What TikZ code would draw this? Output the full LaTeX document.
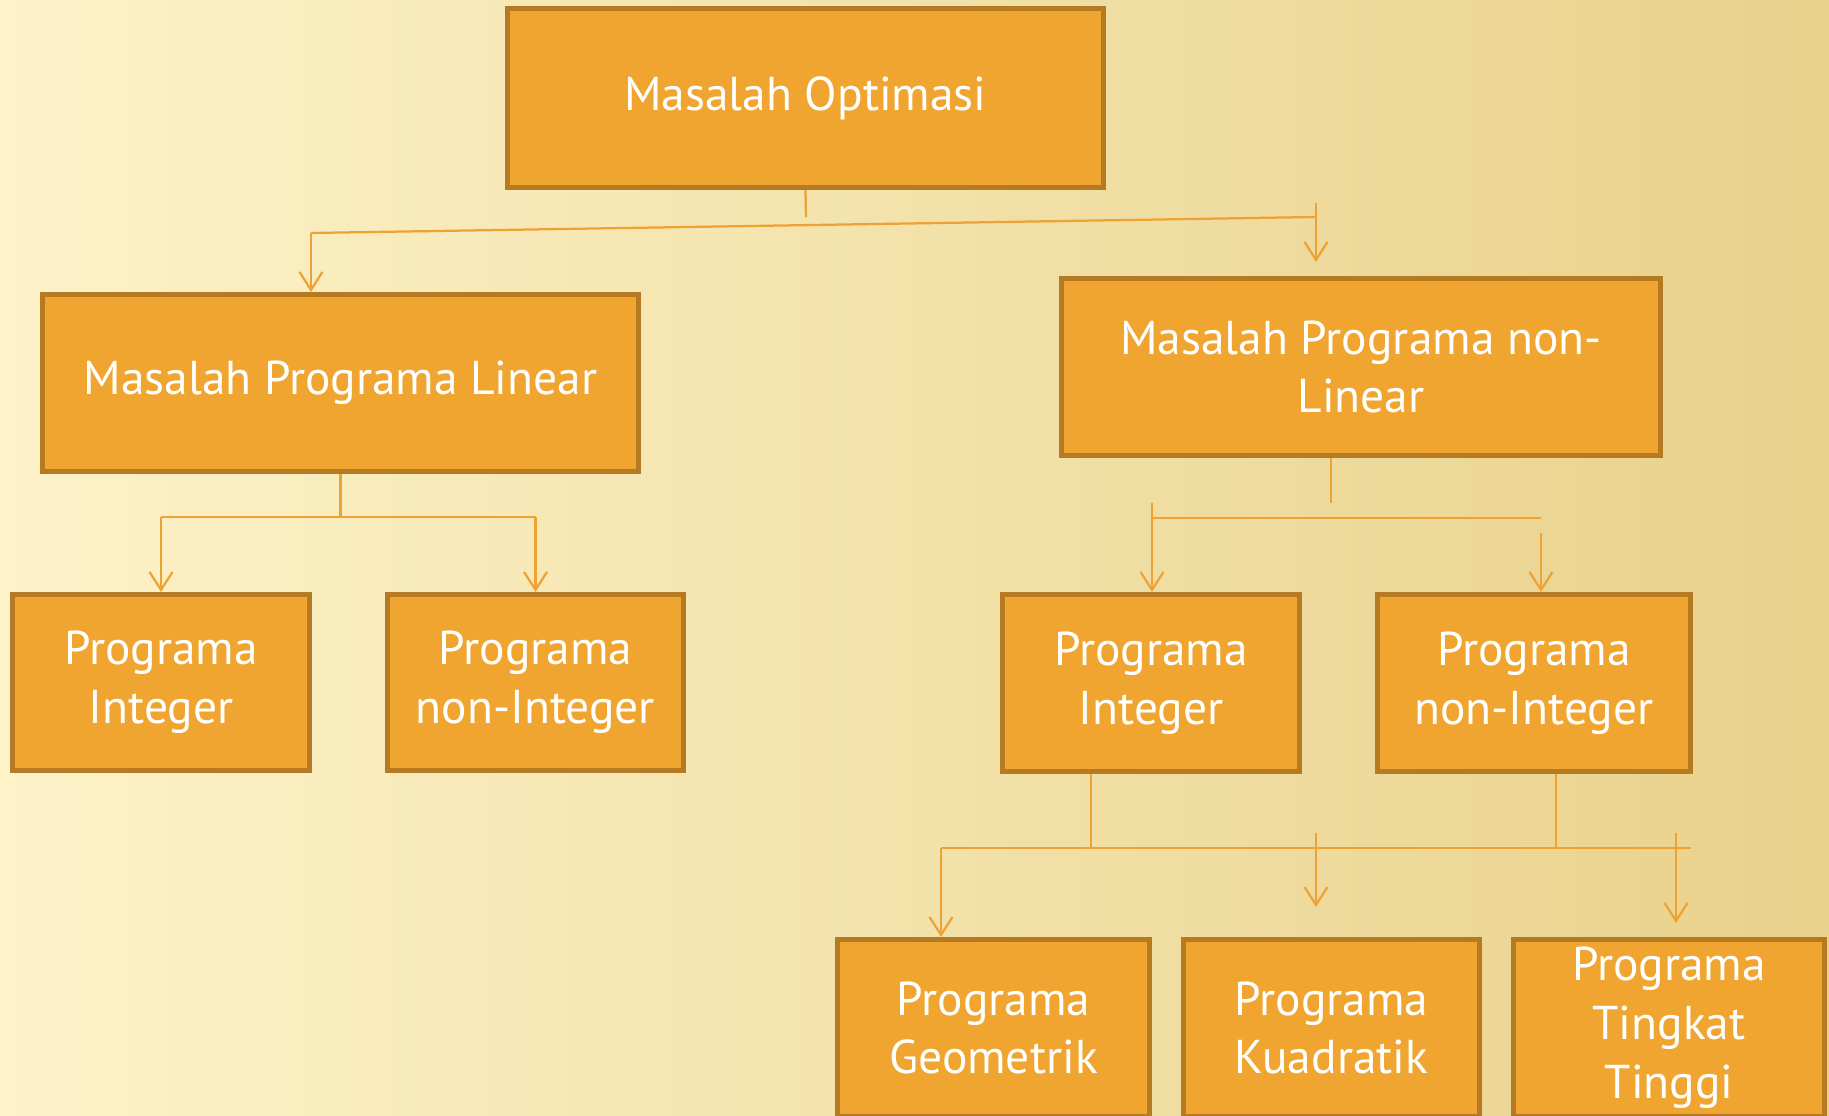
\documentclass[tikz,border=0pt]{standalone}
\usepackage{fontspec}
\setmainfont{PT Sans}
\usepackage{xcolor}
\usepackage{tikz}
\usetikzlibrary{arrows.meta}
\definecolor{OptFill}{HTML}{EFA52F}
\definecolor{OptLine}{HTML}{B57A22}
\definecolor{OptLink}{HTML}{EFA234}
\definecolor{OptBgLeft}{HTML}{FDF2C8}
\definecolor{OptBgMid}{HTML}{F9E9B6}
\definecolor{OptBgRight}{HTML}{E8D18B}
\tikzset{
  optbox/.style={draw=OptLine,fill=OptFill,line width=0.1cm,text=white,align=center,inner sep=0pt,font=\fontsize{27}{33.5}\selectfont},
  optlink/.style={OptLink,line width=0.045cm},
  optarrow/.style={optlink,-{Straight Barb[length=0.36cm,width=0.46cm]}}
}

\begin{document}
\begin{tikzpicture}[x=1cm,y=1cm]
\path[use as bounding box] (0,0) rectangle (36.58,22.30);
\clip (0,0) rectangle (36.58,22.30);
\shade[left color=OptBgLeft,middle color=OptBgMid,right color=OptBgRight] (0,0) rectangle (36.58,22.30);
% boxes
\node[optbox,minimum width=11.92cm,minimum height=3.58cm] (optim) at (16.11,20.34) {Masalah Optimasi};
\node[optbox,minimum width=11.92cm,minimum height=3.54cm] (linear) at (6.81,14.64) {Masalah Programa Linear};
\node[optbox,minimum width=11.98cm,minimum height=3.54cm] (nonlinear) at (27.22,14.96) {Masalah Programa non-\\Linear};
\node[optbox,minimum width=5.94cm,minimum height=3.52cm] (linint) at (3.22,8.65) {Programa\\Integer};
\node[optbox,minimum width=5.92cm,minimum height=3.52cm] (linnonint) at (10.71,8.65) {Programa\\non-Integer};
\node[optbox,minimum width=5.94cm,minimum height=3.54cm] (nlint) at (23.02,8.64) {Programa\\Integer};
\node[optbox,minimum width=6.26cm,minimum height=3.54cm] (nlnonint) at (30.68,8.64) {Programa\\non-Integer};
\node[optbox,minimum width=6.24cm,minimum height=3.54cm] (geom) at (19.87,1.74) {Programa\\Geometrik};
\node[optbox,minimum width=5.92cm,minimum height=3.54cm] (kuad) at (26.63,1.74) {Programa\\Kuadratik};
\node[optbox,minimum width=6.22cm,minimum height=3.54cm] (tingkat) at (33.38,1.74) {Programa\\Tingkat\\Tinggi};
% level 1
\coordinate (optstem) at (16.12,17.96);
\coordinate (optsplitL) at (6.22,17.64);
\coordinate (optsplitR) at (26.32,17.96);
\coordinate (optdropR) at (26.32,18.24);
\coordinate (optdropRtip) at (26.32,17.06);
\draw[optlink] (optim.south) -- (optstem);
\draw[optlink] (optsplitL) -- (optsplitR);
\draw[optarrow] (optsplitL) -- (optsplitL |- linear.north);
\draw[optarrow] (optdropR) -- (optdropRtip);
% level 2, linear
\coordinate (linbar) at (6.82,11.96);
\draw[optlink] (linear.south) -- (linear.south |- linbar);
\draw[optlink] (linint.north |- linbar) -- (linnonint.north |- linbar);
\draw[optarrow] (linint.north |- linbar) -- (linint.north);
\draw[optarrow] (linnonint.north |- linbar) -- (linnonint.north);
% level 2, non-linear
\coordinate (nlstem) at (26.62,12.24);
\coordinate (nlbarL) at (23.04,11.94);
\coordinate (nlbarR) at (30.82,11.94);
\coordinate (nlarrL) at (23.04,12.24);
\coordinate (nlarrR) at (30.82,11.64);
\draw[optlink] (nlstem |- nonlinear.south) -- (nlstem);
\draw[optlink] (nlbarL) -- (nlbarR);
\draw[optarrow] (nlarrL) -- (nlarrL |- nlint.north);
\draw[optarrow] (nlarrR) -- (nlarrR |- nlnonint.north);
% level 3
\coordinate (lowbarL) at (18.82,5.34);
\coordinate (lowbarR) at (33.82,5.34);
\coordinate (lowstemL) at (21.82,5.34);
\coordinate (lowstemR) at (31.12,5.34);
\coordinate (kuadtop) at (26.32,5.64);
\coordinate (kuadtip) at (26.32,4.16);
\coordinate (tingtop) at (33.52,5.64);
\coordinate (tingtip) at (33.52,3.84);
\draw[optlink] (lowstemL |- nlint.south) -- (lowstemL);
\draw[optlink] (lowstemR |- nlnonint.south) -- (lowstemR);
\draw[optlink] (lowbarL) -- (lowbarR);
\draw[optarrow] (lowbarL) -- (lowbarL |- geom.north);
\draw[optarrow] (kuadtop) -- (kuadtip);
\draw[optarrow] (tingtop) -- (tingtip);
\end{tikzpicture}
\end{document}
